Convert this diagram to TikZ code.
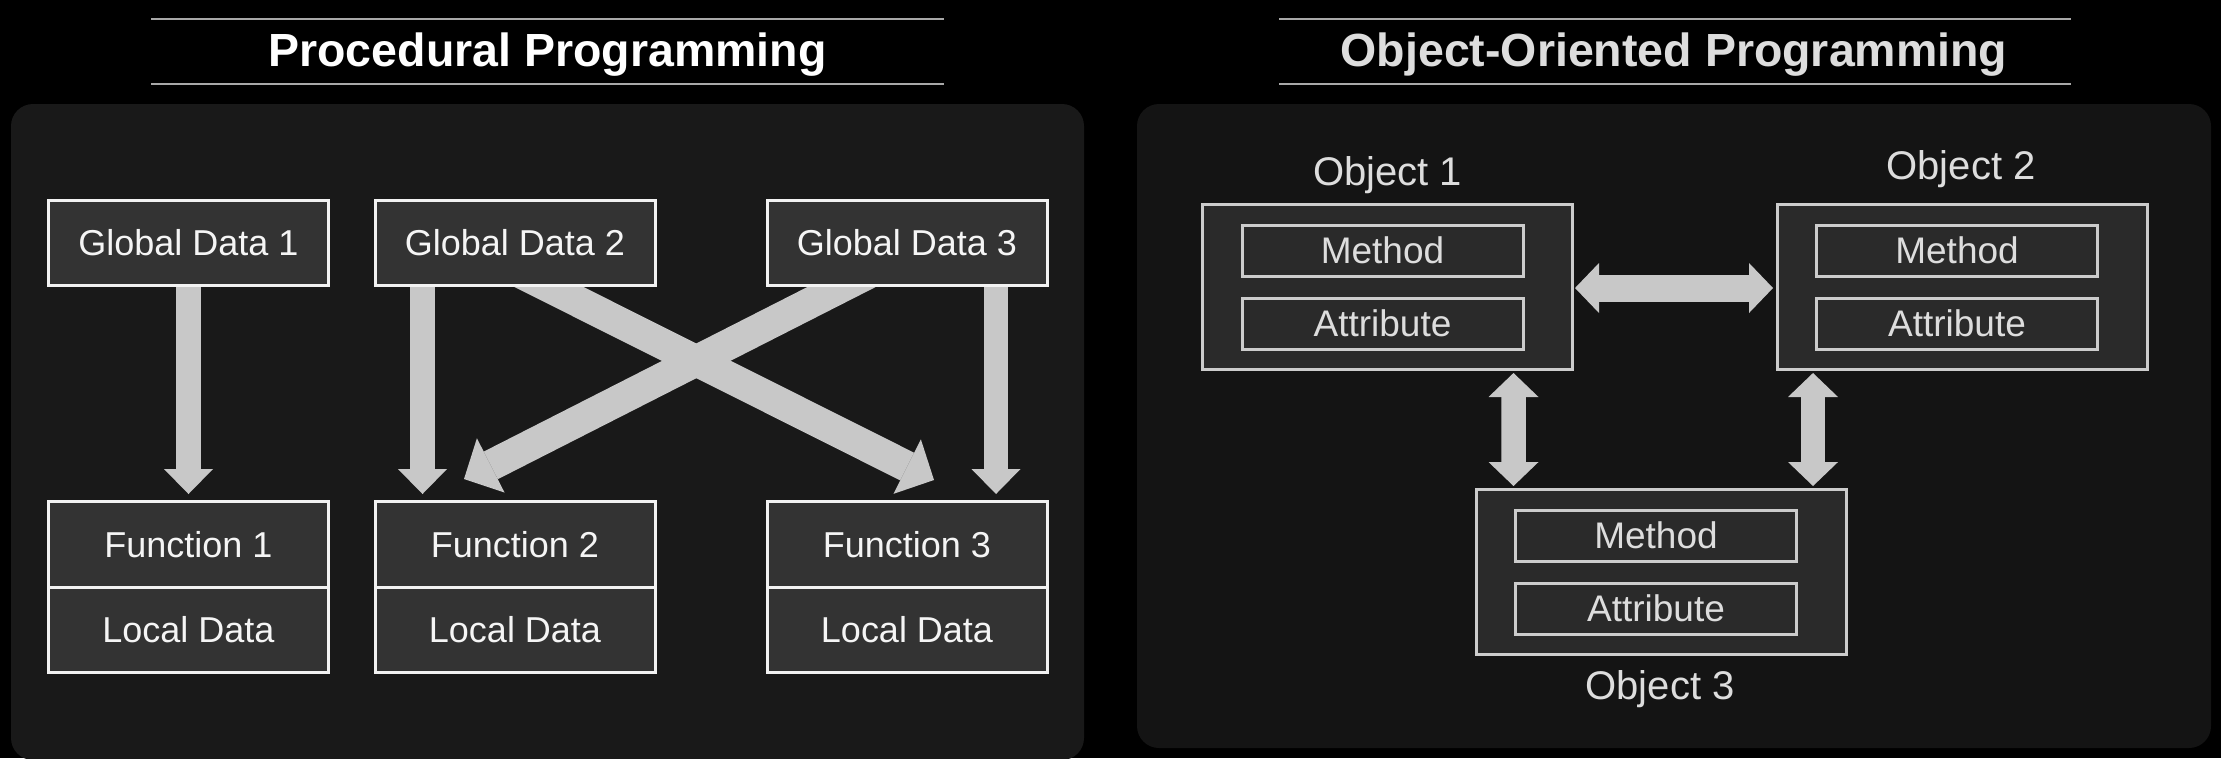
\documentclass[tikz,border=0pt]{standalone}
\usepackage{fontspec}
\setmainfont{Liberation Sans}
\usetikzlibrary{arrows.meta,calc}
\pgfdeclarelayer{panel}
\pgfdeclarelayer{arrowlayer}
\pgfsetlayers{panel,arrowlayer,main}
\definecolor{panelL}{HTML}{191919}
\definecolor{panelR}{HTML}{141414}
\definecolor{boxL}{HTML}{333333}
\definecolor{boxR}{HTML}{2A2A2A}
\definecolor{edgeL}{HTML}{F2F2F2}
\definecolor{edgeR}{HTML}{CCCCCC}
\definecolor{arrowc}{HTML}{C8C8C8}
\definecolor{txtL}{HTML}{F5F5F5}
\definecolor{txtR}{HTML}{DDDDDD}
\definecolor{rulec}{HTML}{A8A8A8}
\begin{document}
\begin{tikzpicture}[x=0.1mm,y=-0.1mm,
  lbox/.style={draw=edgeL, fill=boxL, line width=0.3mm, minimum width=28mm, minimum height=8.5mm, inner sep=0pt, outer sep=0pt, text=txtL, font=\fontsize{10.24}{12}\selectfont, text height=7.33pt, text depth=0pt},
  lcell/.style={lbox, minimum height=8.55mm},
  obox/.style={draw=edgeR, fill=boxR, line width=0.3mm, minimum width=37mm, minimum height=16.5mm, inner sep=0pt, outer sep=0pt},
  ibox/.style={draw=edgeR, fill=boxR, line width=0.3mm, minimum width=28.1mm, minimum height=5.1mm, inner sep=0pt, outer sep=0pt, text=txtR, font=\fontsize{10.53}{12}\selectfont, text height=7.54pt, text depth=0pt},
  olabel/.style={inner sep=0pt, outer sep=0pt, text=txtR, font=\fontsize{11.38}{13}\selectfont, text height=8.15pt, text depth=0pt},
  ttl/.style={inner sep=0pt, outer sep=0pt, font=\bfseries\fontsize{13.23}{15}\selectfont, text height=9.47pt, text depth=0pt},
  rulel/.style={draw=rulec, line width=0.2mm},
  varr/.style={draw=arrowc, line width=2.45mm, -{Triangle[length=2.5mm,width=4.9mm,line width=0pt]}},
  darr/.style={draw=arrowc, line width=3.1mm, -{Triangle[length=3mm,width=6.1mm,line width=0pt]}},
  barr/.style={draw=arrowc, line width=2.45mm, {Triangle[length=2.4mm,width=5mm,line width=0pt]}-{Triangle[length=2.4mm,width=5mm,line width=0pt]}},
  harr/.style={barr, line width=2.7mm}
]
\useasboundingbox (0,0) rectangle (2221,758);
\begin{pgfonlayer}{panel}
  \fill[black] (0,0) rectangle (2221,758);
  \fill[panelL, rounded corners=2.2mm] (11,104) rectangle (1084,760);
  \fill[panelR, rounded corners=2.2mm] (1137,104) rectangle (2211,748);
\end{pgfonlayer}

% titles
\node[ttl, text=white] (t1) at (547.5,50) {Procedural Programming};
\node[ttl, text=txtR] (t2) at (1674,50) {Object-Oriented Programming};
\draw[rulel] (151,19) -- (944,19);
\draw[rulel] (151,84) -- (944,84);
\draw[rulel] (1279,19) -- (2071,19);
\draw[rulel] (1279,84) -- (2071,84);

% procedural
\node[lbox] (gd1) at (188.5,243) {Global Data 1};
\node[lbox] (gd2) at (515,243) {Global Data 2};
\node[lbox] (gd3) at (907,243) {Global Data 3};
\node[lcell] (f1) at (188.5,544.25) {Function 1};
\node[lcell] (ld1) at (188.5,629.75) {Local Data};
\node[lcell] (f2) at (515,544.25) {Function 2};
\node[lcell] (ld2) at (515,629.75) {Local Data};
\node[lcell] (f3) at (907,544.25) {Function 3};
\node[lcell] (ld3) at (907,629.75) {Local Data};

% object oriented
\node[obox] (ob1) at (1387.5,287) {};
\node[ibox] (m1) at ($(ob1)+(-5,-36.5)$) {Method};
\node[ibox] (at1) at ($(ob1)+(-5,36.5)$) {Attribute};
\node[olabel] (lb1) at ($(ob1.north)+(0,-33.5)$) {Object 1};
\node[obox] (ob2) at (1962,287) {};
\node[ibox] (m2) at ($(ob2)+(-5,-36.5)$) {Method};
\node[ibox] (at2) at ($(ob2)+(-5,36.5)$) {Attribute};
\node[olabel] (lb2) at ($(ob2.north)+(-1,-39.5)$) {Object 2};
\node[obox] (ob3) at (1661,572) {};
\node[ibox] (m3) at ($(ob3)+(-5,-36.5)$) {Method};
\node[ibox] (at3) at ($(ob3)+(-5,36.5)$) {Attribute};
\node[olabel] (lb3) at ($(ob3.south)+(-1,30.5)$) {Object 3};

\begin{pgfonlayer}{arrowlayer}
  \draw[varr] (gd1.south) -- ($(f1.north)+(0,-7.5)$);
  \draw[varr] ($(gd2.south)+(-92.5,0)$) -- ($(f2.north)+(-92.5,-7.5)$);
  \draw[varr] ($(gd3.south)+(89,0)$) -- ($(f3.north)+(89,-7.5)$);
  \coordinate (d1s) at ($(gd2.south)+(34,1.5)$);
  \coordinate (d1e) at ($(f3.north)+(27,-21.5)$);
  \draw[darr] ($(d1s)!-4.5mm!(d1e)$) -- (d1e);
  \coordinate (d2s) at ($(gd3.south)+(-65.5,1.5)$);
  \coordinate (d2e) at ($(f2.north)+(-51,-22.5)$);
  \draw[darr] ($(d2s)!-4.5mm!(d2e)$) -- (d2e);
  \draw[harr] ($(ob1.east)+(2.5,1)$) -- ($(ob2.west)+(-4,1)$);
  \draw[barr] ($(ob1.south)+(126,3.5)$) -- ($(ob3.north)+(-147.5,-3.5)$);
  \draw[barr] ($(ob2.south)+(-149,3.5)$) -- ($(ob3.north)+(152,-3.5)$);
\end{pgfonlayer}
\end{tikzpicture}
\end{document}
